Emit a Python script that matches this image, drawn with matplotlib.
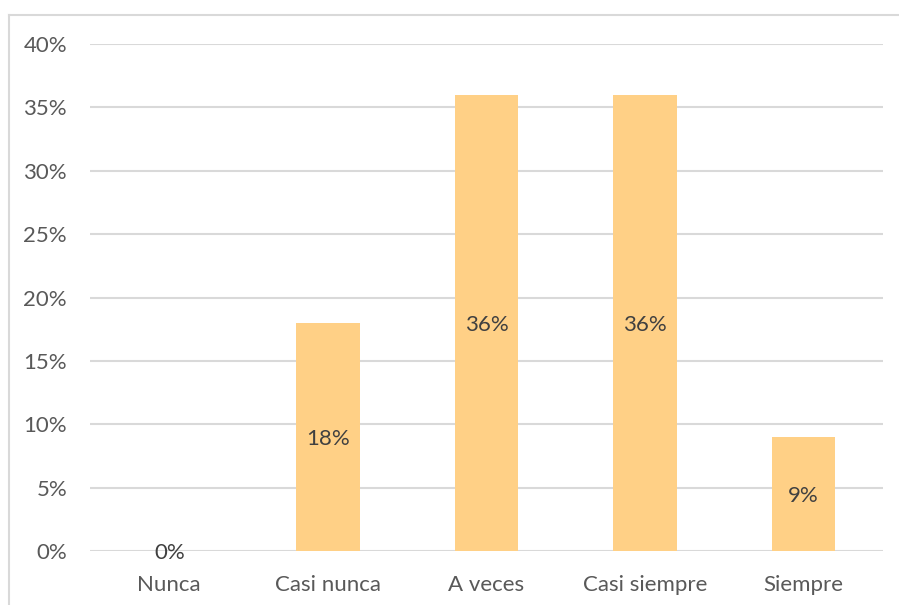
import matplotlib.pyplot as plt
from matplotlib.lines import Line2D
from matplotlib.ticker import FuncFormatter

categories = ["Nunca", "Casi nunca", "A veces", "Casi siempre", "Siempre"]
values = [0, 18, 36, 36, 9]

bar_color = '#FFD086'
text_color = '#595959'
grid_color = '#D9D9D9'

plt.rcParams['font.family'] = ['Lato', 'DejaVu Sans']

W, H = 899, 605
fig = plt.figure(figsize=(W / 100, H / 100), dpi=100)
ax = fig.add_axes([90 / W, 1 - 551 / H, (883 - 90) / W, (551 - 44) / H])

x = range(len(categories))
bars = ax.bar(x, values, width=0.4, color=bar_color, zorder=2)

ax.set_xlim(-0.5, len(categories) - 0.5)
ax.set_ylim(0, 40)
ax.set_yticks(range(0, 41, 5))
ax.yaxis.set_major_formatter(FuncFormatter(lambda v, p: f"{v:.0f}%"))
ax.set_xticks(list(x))
ax.set_xticklabels(categories)

ax.grid(axis='y', color=grid_color, linewidth=1.5, zorder=0)
for s in ax.spines.values():
    s.set_visible(False)
ax.tick_params(length=0, labelsize=16, colors=text_color)
ax.tick_params(axis='y', pad=16.5)
ax.tick_params(axis='x', pad=17)

# value labels centred in each bar
for rect, v in zip(bars, values):
    ax.text(rect.get_x() + rect.get_width() / 2, v / 2, f"{v}%",
            ha='center', va='center_baseline', fontsize=16, color='#404040', zorder=3)

# chart frame (top and left edges)
fig.add_artist(Line2D([8.5 / W, 8.5 / W], [0, 1 - 14.5 / H], color=grid_color, lw=1.5))
fig.add_artist(Line2D([8.5 / W, 1], [1 - 14.5 / H, 1 - 14.5 / H], color=grid_color, lw=1.5))

fig.savefig('out.png', dpi=100)
